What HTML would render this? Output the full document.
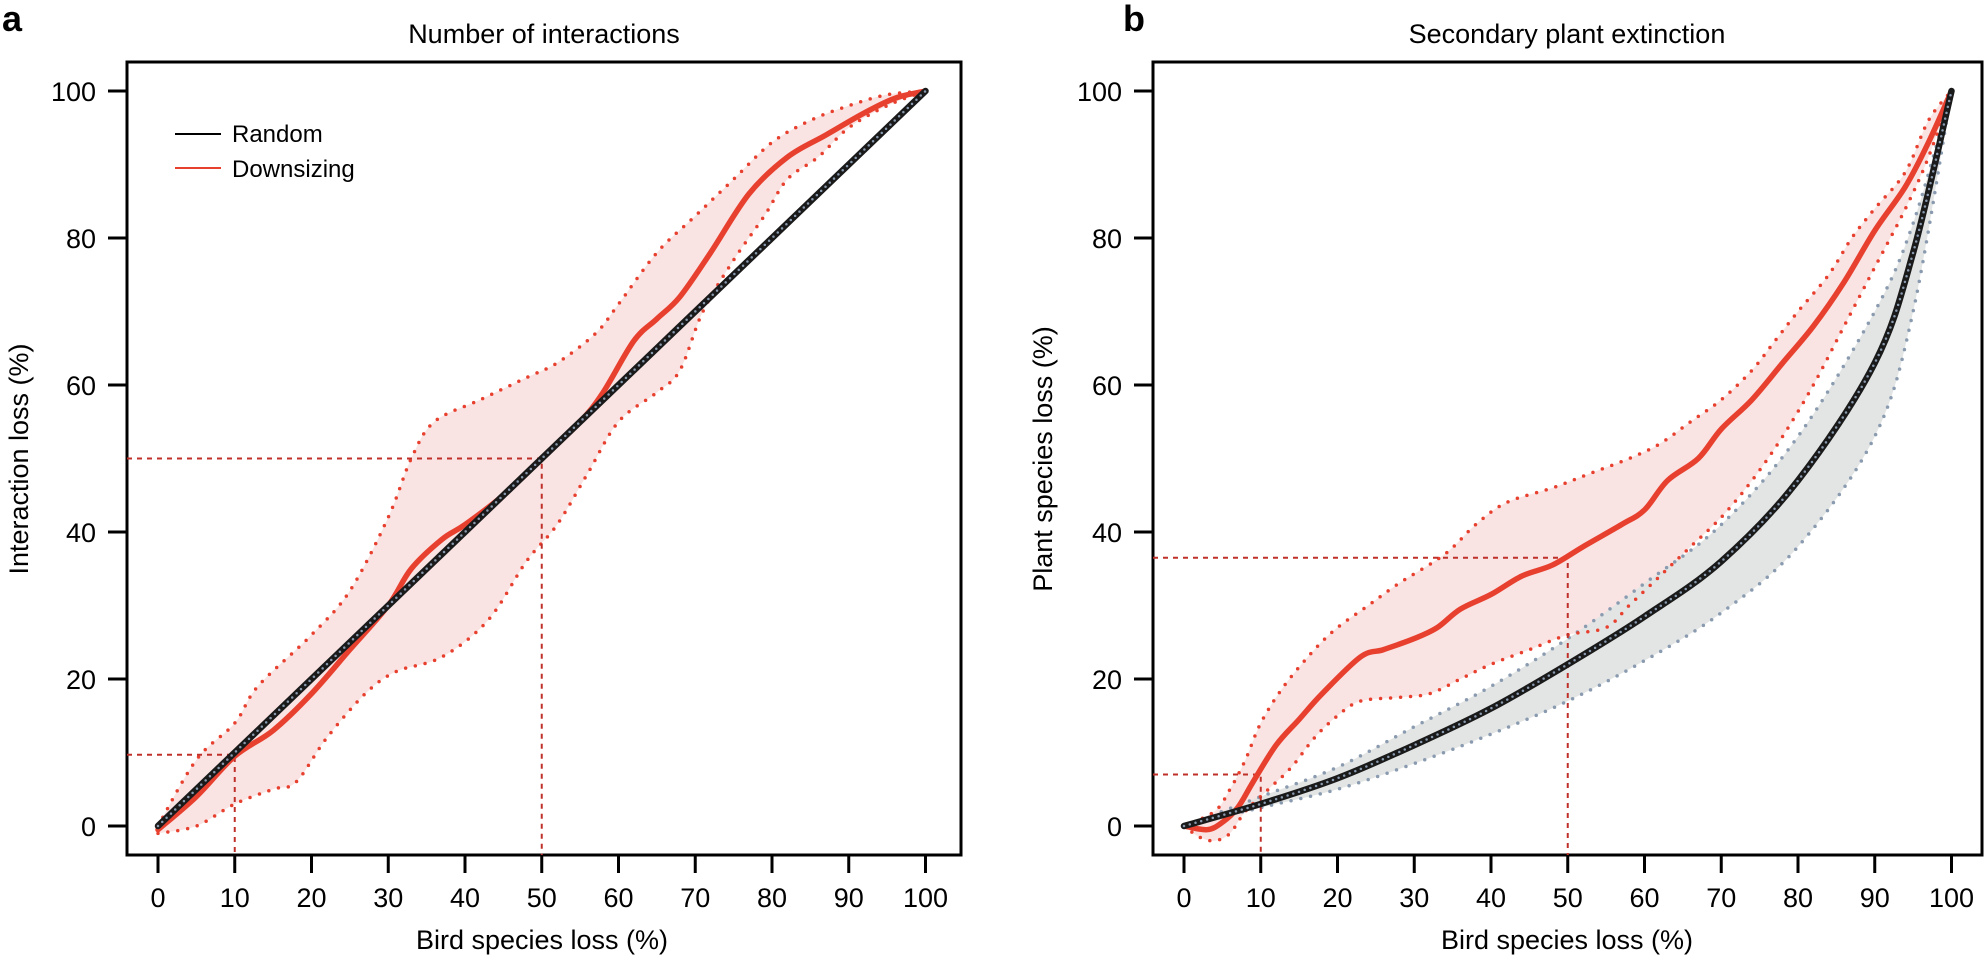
<!DOCTYPE html>
<html><head><meta charset="utf-8"><style>
body{margin:0;background:#fff}
svg text{font-family:"Liberation Sans",sans-serif;fill:#000}
</style></head><body>
<svg id="s" width="1984" height="957" xmlns="http://www.w3.org/2000/svg">
<text x="2" y="31" font-size="36" font-weight="bold">a</text>
<text x="1123" y="31" font-size="36" font-weight="bold">b</text>
<text x="544" y="43" font-size="27" text-anchor="middle">Number of interactions</text>
<text x="1567" y="43" font-size="27" text-anchor="middle">Secondary plant extinction</text>
<text x="542" y="949" font-size="27" text-anchor="middle">Bird species loss (%)</text>
<text x="1567" y="949" font-size="27" text-anchor="middle">Bird species loss (%)</text>
<text transform="translate(28,459) rotate(-90)" font-size="27" text-anchor="middle">Interaction loss (%)</text>
<text transform="translate(1052,459) rotate(-90)" font-size="27" text-anchor="middle">Plant species loss (%)</text>
<line x1="175" y1="134" x2="221" y2="134" stroke="#000" stroke-width="2"/>
<line x1="175" y1="168" x2="221" y2="168" stroke="#e8402f" stroke-width="2"/>
<text x="232" y="142" font-size="24">Random</text>
<text x="232" y="177" font-size="24">Downsizing</text>
<g id="g"></g>
</svg>
<script>
const NS="http://www.w3.org/2000/svg",g=document.getElementById('g');
function el(t,a){const e=document.createElementNS(NS,t);for(const k in a)e.setAttribute(k,a[k]);g.appendChild(e);return e;}
const Y=v=>826-7.35*v;
function P(x0,pts){return pts.map(p=>[x0+7.675*p[0],Y(p[1])]);}
function cr(p){let d=`M${p[0][0]},${p[0][1]}`;for(let i=0;i<p.length-1;i++){const a=p[Math.max(i-1,0)],b=p[i],c=p[i+1],e=p[Math.min(i+2,p.length-1)];d+=` C${b[0]+(c[0]-a[0])/6},${b[1]+(c[1]-a[1])/6} ${c[0]-(e[0]-b[0])/6},${c[1]-(e[1]-b[1])/6} ${c[0]},${c[1]}`;}return d;}
function band(up,lo){const u=cr(up);const l=cr(lo.slice().reverse()).replace('M','L');return u+l+'Z';}
function panel(x0,bx0,bx1,d){
 el('rect',{x:bx0,y:62,width:bx1-bx0,height:793,fill:'none',stroke:'#000','stroke-width':3});
 for(let v=0;v<=100;v+=10){const x=x0+7.675*v;el('line',{x1:x,y1:855,x2:x,y2:873,stroke:'#000','stroke-width':3});const t=el('text',{x:x,y:907,'font-size':27,'text-anchor':'middle'});t.textContent=v;}
 for(let v=0;v<=100;v+=20){const y=Y(v);el('line',{x1:bx0-19,y1:y,x2:bx0,y2:y,stroke:'#000','stroke-width':3});const t=el('text',{x:bx0-31,y:y+10,'font-size':27,'text-anchor':'end'});t.textContent=v;}
 const up=P(x0,d.up),lo=P(x0,d.lo);
 el('path',{d:band(up,lo),fill:'#f9e3e3'});
 if(d.gu){const gu=P(x0,d.gu),gl=P(x0,d.gl);el('path',{d:band(gu,gl),fill:'#e3e5e5'});
  [gu,gl].forEach(p=>el('path',{d:cr(p),fill:'none',stroke:'#8a9bb0','stroke-width':3.5,'stroke-dasharray':'0 10','stroke-linecap':'round'}));}
 [up,lo].forEach(p=>el('path',{d:cr(p),fill:'none',stroke:'#e8402f','stroke-width':3.5,'stroke-dasharray':'0 10','stroke-linecap':'round'}));
 d.ref.forEach(r=>{const x=x0+7.675*r[0],y=Y(r[1]);el('path',{d:`M${bx0},${y}H${x}V855`,fill:'none',stroke:'#c0302a','stroke-width':2,'stroke-dasharray':'5 5'});});
 el('path',{d:cr(P(x0,d.mean)),fill:'none',stroke:'#e8402f','stroke-width':5.5,'stroke-linecap':'round'});
 const bl=cr(P(x0,d.black));
 el('path',{d:bl,fill:'none',stroke:'#1a1a1a','stroke-width':6.5,'stroke-linecap':'round'});
 el('path',{d:bl,fill:'none',stroke:'#8a9bb0','stroke-width':2.5,'stroke-dasharray':'0 6','stroke-linecap':'round'});
}
panel(158,127,961,{
 up:[[0,0],[5,9],[10,14],[13,19],[20,26],[25,32],[30,42],[33,50],[36,55],[42,58],[48,61],[52,63],[57,67],[60,71],[65,78],[70,83],[75,88],[80,93],[85,96],[90,98],[95,99.5],[100,100]],
 lo:[[0,-1],[5,0],[10,3],[15,5],[18,6],[22,12],[27,18],[31,21],[37,23],[43,28],[48,36],[52,41],[56,48],[60,55],[65,59],[68,62],[71,70],[75,77],[79,83],[82,88],[86,91],[90,95],[95,98],[100,100]],
 mean:[[0,-0.5],[5,4],[10,9.5],[15,13],[20,18],[25,24],[30,30],[33,35],[37,39],[40,41],[45,45],[50,50],[55,55],[58,59],[62,66],[65,69],[68,72],[72,78],[77,86],[82,91],[87,94],[92,97],[96,99],[100,100]],
 black:[[0,0],[50,50],[100,100]],
 ref:[[10,9.7],[50,50]]
});
panel(1184,1153,1982,{
 up:[[0,0],[4,2],[6,5],[8,9],[10,14],[13,19],[17,24],[20,27],[24,30],[28,33],[34,37],[38,41],[42,44],[48,46],[53,48],[58,50],[62,52],[66,55],[70,58],[74,62],[77,66],[80,70],[84,75],[87,80],[90,84],[94,89],[97,96],[100,100]],
 lo:[[0,0],[2,-1.5],[4,-2],[6,-1],[8,2],[11,5],[14,8],[17,12],[20,15],[23,17],[28,17.5],[32,18],[36,20],[40,22],[45,24],[50,26],[55,27],[58,30],[62,34],[66,38],[70,42],[74,47],[78,53],[82,60],[86,68],[90,76],[94,84],[97,91],[100,100]],
 gu:[[0,0],[10,4],[20,8],[30,13.5],[40,19],[50,25.5],[60,33],[70,41],[80,53],[90,70],[95,82],[100,100]],
 gl:[[0,0],[10,2.5],[20,5],[30,8.5],[40,12.5],[50,17],[60,22.5],[70,29],[80,38],[90,53],[95,70],[100,100]],
 mean:[[0,0],[3,-0.5],[5,0.5],[7,2.5],[9,6],[12,11],[15,14.5],[18,18],[23,23],[26,24],[30,25.5],[33,27],[36,29.5],[40,31.5],[44,34],[48,35.5],[52,38],[57,41],[60,43],[63,47],[67,50],[70,54],[74,58],[78,63],[82,68],[86,74],[90,81],[94,87],[97,93],[100,100]],
 black:[[0,0],[10,3],[20,6.5],[30,11],[40,16],[50,22],[60,28.5],[70,36],[80,47],[90,63],[95,78],[100,100]],
 ref:[[10,7],[50,36.5]]
});
</script>
</body></html>
